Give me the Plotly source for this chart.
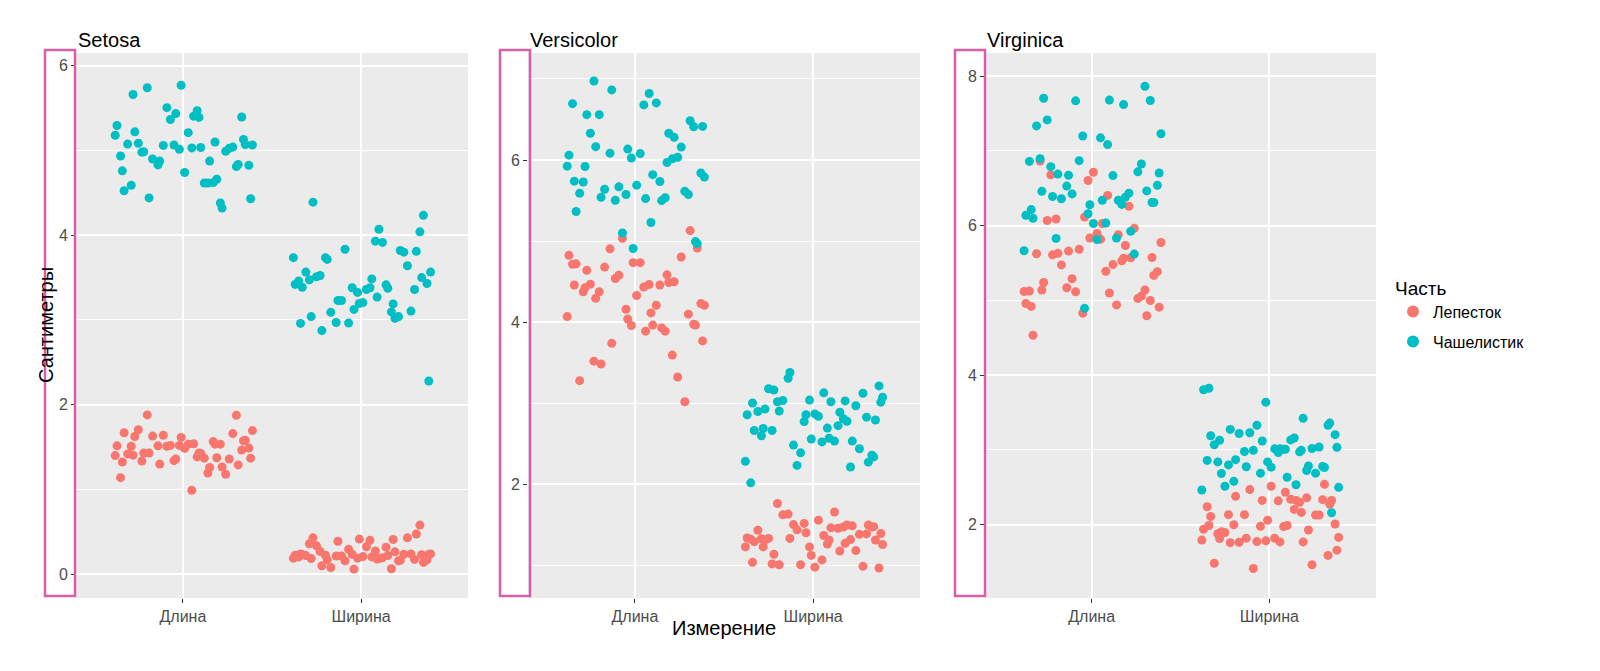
import plotly.graph_objects as go

species = ["Setosa", "Versicolor", "Virginica"]
measures = ["Длина", "Ширина"]
parts = ["Лепесток", "Чашелистик"]
colors = {"Лепесток": "#F8766D", "Чашелистик": "#00BFC4"}

setosa_sl = [5.1,4.9,4.7,4.6,5.0,5.4,4.6,5.0,4.4,4.9,5.4,4.8,4.8,4.3,5.8,5.7,5.4,5.1,5.7,5.1,5.4,5.1,4.6,5.1,4.8,5.0,5.0,5.2,5.2,4.7,4.8,5.4,5.2,5.5,4.9,5.0,5.5,4.9,4.4,5.1,5.0,4.5,4.4,5.0,5.1,4.8,5.1,4.6,5.3,5.0]
setosa_sw = [3.5,3.0,3.2,3.1,3.6,3.9,3.4,3.4,2.9,3.1,3.7,3.4,3.0,3.0,4.0,4.4,3.9,3.5,3.8,3.8,3.4,3.7,3.6,3.3,3.4,3.0,3.4,3.5,3.4,3.2,3.1,3.4,4.1,4.2,3.1,3.2,3.5,3.6,3.0,3.4,3.5,2.3,3.2,3.5,3.8,3.0,3.8,3.2,3.7,3.3]
setosa_pl = [1.4,1.4,1.3,1.5,1.4,1.7,1.4,1.5,1.4,1.5,1.5,1.6,1.4,1.1,1.2,1.5,1.3,1.4,1.7,1.5,1.7,1.5,1.0,1.7,1.9,1.6,1.6,1.5,1.4,1.6,1.6,1.5,1.5,1.4,1.5,1.2,1.3,1.4,1.3,1.5,1.3,1.3,1.3,1.6,1.9,1.4,1.6,1.4,1.5,1.4]
setosa_pw = [0.2,0.2,0.2,0.2,0.2,0.4,0.3,0.2,0.2,0.1,0.2,0.2,0.1,0.1,0.2,0.4,0.4,0.3,0.3,0.3,0.2,0.4,0.2,0.5,0.2,0.2,0.4,0.2,0.2,0.2,0.2,0.4,0.1,0.2,0.2,0.2,0.2,0.1,0.2,0.2,0.3,0.3,0.2,0.6,0.4,0.3,0.2,0.2,0.2,0.2]
versi_sl = [7.0,6.4,6.9,5.5,6.5,5.7,6.3,4.9,6.6,5.2,5.0,5.9,6.0,6.1,5.6,6.7,5.6,5.8,6.2,5.6,5.9,6.1,6.3,6.1,6.4,6.6,6.8,6.7,6.0,5.7,5.5,5.5,5.8,6.0,5.4,6.0,6.7,6.3,5.6,5.5,5.5,6.1,5.8,5.0,5.6,5.7,5.7,6.2,5.1,5.7]
versi_sw = [3.2,3.2,3.1,2.3,2.8,2.8,3.3,2.4,2.9,2.7,2.0,3.0,2.2,2.9,2.9,3.1,3.0,2.7,2.2,2.5,3.2,2.8,2.5,2.8,2.9,3.0,2.8,3.0,2.9,2.6,2.4,2.4,2.7,2.7,3.0,3.4,3.1,2.3,3.0,2.5,2.6,3.0,2.6,2.3,2.7,3.0,2.9,2.9,2.5,2.8]
versi_pl = [4.7,4.5,4.9,4.0,4.6,4.5,4.7,3.3,4.6,3.9,3.5,4.2,4.0,4.7,3.6,4.4,4.5,4.1,4.5,3.9,4.8,4.0,4.9,4.7,4.3,4.4,4.8,5.0,4.5,3.5,3.8,3.7,3.9,5.1,4.5,4.5,4.7,4.4,4.1,4.0,4.4,4.6,4.0,3.3,4.2,4.2,4.2,4.3,3.0,4.1]
versi_pw = [1.4,1.5,1.5,1.3,1.5,1.3,1.6,1.0,1.3,1.4,1.0,1.5,1.0,1.4,1.3,1.4,1.5,1.0,1.5,1.1,1.8,1.3,1.5,1.2,1.3,1.4,1.4,1.7,1.5,1.0,1.1,1.0,1.2,1.6,1.5,1.6,1.5,1.3,1.3,1.3,1.2,1.4,1.2,1.0,1.3,1.2,1.3,1.3,1.1,1.3]
virg_sl = [6.3,5.8,7.1,6.3,6.5,7.6,4.9,7.3,6.7,7.2,6.5,6.4,6.8,5.7,5.8,6.4,6.5,7.7,7.7,6.0,6.9,5.6,7.7,6.3,6.7,7.2,6.2,6.1,6.4,7.2,7.4,7.9,6.4,6.3,6.1,7.7,6.3,6.4,6.0,6.9,6.7,6.9,5.8,6.8,6.7,6.7,6.3,6.5,6.2,5.9]
virg_sw = [3.3,2.7,3.0,2.9,3.0,3.0,2.5,2.9,2.5,3.6,3.2,2.7,3.0,2.5,2.8,3.2,3.0,3.8,2.6,2.2,3.2,2.8,2.8,2.7,3.3,3.2,2.8,3.0,2.8,3.0,2.8,3.8,2.8,2.8,2.6,3.0,3.4,3.1,3.0,3.1,3.1,3.1,2.7,3.2,3.3,3.0,2.5,3.0,3.4,3.0]
virg_pl = [6.0,5.1,5.9,5.6,5.8,6.6,4.5,6.3,5.8,6.1,5.1,5.3,5.5,5.0,5.1,5.3,5.5,6.7,6.9,5.0,5.7,4.9,6.7,4.9,5.7,6.0,4.8,4.9,5.6,5.8,6.1,6.4,5.6,5.1,5.6,6.1,5.6,5.5,4.8,5.4,5.6,5.1,5.1,5.9,5.7,5.2,5.0,5.2,5.4,5.1]
virg_pw = [2.5,1.9,2.1,1.8,2.2,2.1,1.7,1.8,1.8,2.5,2.0,1.9,2.1,2.0,2.4,2.3,1.8,2.2,2.3,1.5,2.3,2.0,2.0,1.8,2.1,1.8,1.8,1.8,2.1,1.6,1.9,2.0,2.2,1.5,1.4,2.3,2.4,1.8,1.8,2.1,2.4,2.3,1.9,2.3,2.5,2.3,1.9,2.0,2.3,1.8]

# fixed jitter offsets (typed, not random)
jitter = [-0.31,0.12,-0.05,0.37,-0.22,0.28,-0.38,0.03,0.19,-0.14,0.33,-0.27,0.08,-0.35,0.24,-0.09,0.15,-0.19,0.39,-0.02,
          -0.33,0.21,0.05,-0.25,0.30,-0.11,0.17,-0.37,0.10,0.35,-0.17,0.01,-0.29,0.26,-0.07,0.14,-0.23,0.38,-0.13,0.06,
          0.31,-0.34,0.22,-0.01,-0.20,0.09,0.34,-0.28,0.18,-0.04]
yjit = [0.02,-0.03,0.04,-0.01,0.03,-0.04,0.00,0.035,-0.025,0.015,-0.035,0.025,-0.015,0.04,-0.02,0.01,-0.04,0.03,-0.005,0.02,
        -0.03,0.035,-0.01,0.005,-0.025,0.04,-0.035,0.015,0.025,-0.02,0.03,-0.015,0.01,-0.04,0.02,-0.005,0.035,-0.03,0.0,0.04,
        -0.01,0.025,-0.035,0.015,-0.02,0.03,-0.025,0.005,0.035,-0.04]

data = {
    "Setosa": {("Длина","Чашелистик"): setosa_sl, ("Ширина","Чашелистик"): setosa_sw,
               ("Длина","Лепесток"): setosa_pl, ("Ширина","Лепесток"): setosa_pw},
    "Versicolor": {("Длина","Чашелистик"): versi_sl, ("Ширина","Чашелистик"): versi_sw,
                   ("Длина","Лепесток"): versi_pl, ("Ширина","Лепесток"): versi_pw},
    "Virginica": {("Длина","Чашелистик"): virg_sl, ("Ширина","Чашелистик"): virg_sw,
                  ("Длина","Лепесток"): virg_pl, ("Ширина","Лепесток"): virg_pw},
}

L, T, W, H = 68, 45, 1300, 545
def px(x): return (x - L) / W
def py(y): return (T + H - y) / H

panels = [(68, 460), (520, 912), (977, 1368)]
yranges = [[-0.28, 6.15], [0.6, 7.32], [1.02, 8.31]]
ytick = [[0, 2, 4, 6], [2, 4, 6], [2, 4, 6, 8]]
yminor = [[1, 3, 5], [1, 3, 5, 7], [3, 5, 7]]

fig = go.Figure()
layout = dict()
for i, sp in enumerate(species):
    sfx = "" if i == 0 else str(i + 1)
    for part in parts:
        xs, ys = [], []
        for mi, m in enumerate(measures):
            vals = data[sp][(m, part)]
            shift = (mi * 17 + (0 if part == "Лепесток" else 29) + i * 7) % 50
            for k, v in enumerate(vals):
                xs.append(mi + 1 + jitter[(k + shift) % 50])
                ys.append(v + yjit[(k + shift * 3) % 50])
        fig.add_trace(go.Scatter(x=xs, y=ys, mode="markers", name=part,
                                 legendgroup=part, showlegend=(i == 0),
                                 marker=dict(color=colors[part], size=9),
                                 xaxis="x" + sfx, yaxis="y" + sfx))
    x0, x1 = panels[i]
    layout["xaxis" + sfx] = dict(domain=[px(x0), px(x1)], range=[0.4, 2.6], tickvals=[1, 2],
                                 ticktext=measures, showgrid=True, gridcolor="white", gridwidth=2,
                                 zeroline=False, anchor="y" + sfx, ticks="outside", ticklen=4,
                                 tickcolor="#333", automargin=False,
                                 tickfont=dict(size=16, color="#4d4d4d"))
    layout["yaxis" + sfx] = dict(domain=[0, 1], range=yranges[i], tickvals=ytick[i],
                                 showgrid=True, gridcolor="white", gridwidth=2, zeroline=False,
                                 anchor="x" + sfx, ticks="outside", ticklen=4, tickcolor="#333",
                                 automargin=False,
                                 tickfont=dict(size=16, color="#4d4d4d"),
                                 minor=dict(tickvals=yminor[i], showgrid=True, gridcolor="white",
                                            gridwidth=1, ticks=""))
    fig.add_shape(type="rect", xref="paper", yref="paper", x0=px(x0), x1=px(x1), y0=0, y1=1,
                  fillcolor="#EBEBEB", line=dict(width=0), layer="below")
    fig.add_annotation(text=sp, xref="paper", yref="paper", x=px(x0), y=1.0, xanchor="left",
                       yanchor="bottom", showarrow=False, font=dict(size=20, color="black"))
    bx = [37, 492, 947][i]
    fig.add_shape(type="rect", xref="paper", yref="paper", x0=px(bx), x1=px(bx + 30),
                  y0=py(588), y1=py(42), line=dict(color="#D85FA5", width=2.5))

fig.add_annotation(text="Сантиметры", xref="paper", yref="paper", x=px(25), y=py(317),
                   textangle=-90, showarrow=False, font=dict(size=20, color="black"))
fig.add_annotation(text="Измерение", xref="paper", yref="paper", x=px(716), y=py(633),
                   showarrow=False, font=dict(size=20, color="black"))

fig.update_layout(**layout)
fig.update_layout(width=1600, height=671, plot_bgcolor="rgba(0,0,0,0)", paper_bgcolor="white",
                  margin=dict(l=L, r=1600 - L - W, t=T, b=671 - T - H, autoexpand=False),
                  font=dict(family="Liberation Sans, Arial, sans-serif"),
                  legend=dict(x=px(1385), y=py(262), xanchor="left", yanchor="top",
                              title=dict(text="Часть", font=dict(size=19, color="black")),
                              font=dict(size=16, color="black"), bgcolor="white",
                              itemsizing="constant", tracegroupgap=6))
fig.write_html("out.html")
